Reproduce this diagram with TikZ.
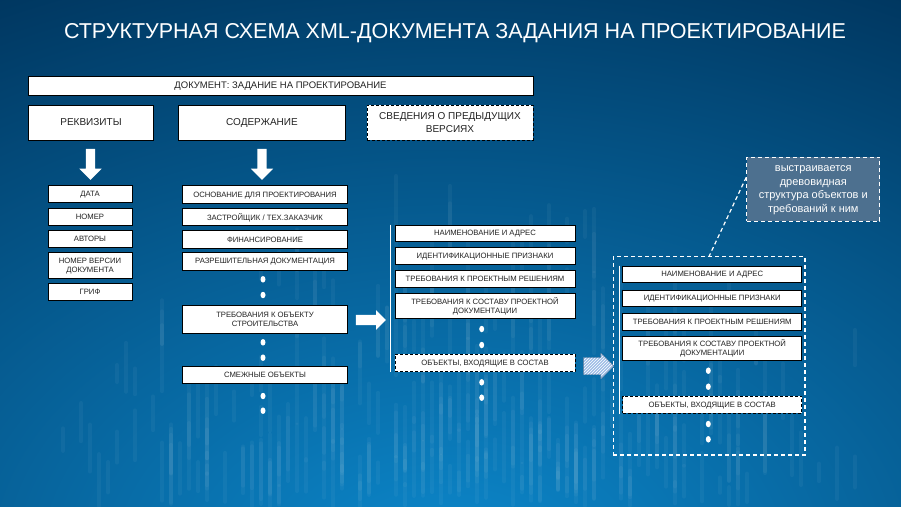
\documentclass[tikz,border=0pt]{standalone}
\usepackage{fontspec}
\setmainfont{Liberation Sans}
\usetikzlibrary{shapes.geometric,shapes.arrows,patterns}

\definecolor{bgnavy}{HTML}{00365F}
\definecolor{bgglow}{HTML}{0C88CC}
\definecolor{notefill}{HTML}{4D708F}
\definecolor{hatchblue}{HTML}{9DBDE6}
\definecolor{inktext}{HTML}{222222}

\begin{document}
\begin{tikzpicture}[x=1pt,y=-1pt,
    box/.style={draw=black, fill=white, line width=0.8pt, text=inktext, align=center,
      inner sep=0pt, text depth=0pt, font=\fontsize{7.7}{9}\selectfont},
    headbox/.style={box, font=\fontsize{10}{12.5}\selectfont},
    dashbox/.style={box, dash pattern=on 3pt off 2pt},
    dot/.style={ellipse, fill=white, inner sep=0pt, minimum width=5pt, minimum height=6.5pt},
    stem/.style={white, line width=1.5pt},
    framebox/.style={draw=white, line width=1.2pt, dash pattern=on 4pt off 3pt, inner sep=0pt},
    notebox/.style={framebox, fill=notefill, text=white, align=center, text depth=0pt,
      font=\fontsize{11}{13.5}\selectfont},
    whitearrow/.style={single arrow, fill=white, inner xsep=0pt, inner ysep=4.5pt,
      single arrow head extend=6.5pt, minimum height=31pt},
    hatcharrow/.style={single arrow, draw=hatchblue!70!black, line width=0.4pt,
      preaction={fill=hatchblue}, pattern=north east lines, pattern color=white,
      inner xsep=0pt, inner ysep=8.3pt, single arrow head extend=4.2pt, minimum height=30pt},
    streak/.style={white, opacity=0.045, line width=4.5pt, line cap=round}]

  \useasboundingbox (0,0) rectangle (901,506);

  % Background
  \fill[bgnavy] (0,0) rectangle (901,506);
  \begin{scope}
    \clip (0,0) rectangle (901,506);
    \shade[inner color=bgglow, outer color=bgnavy] (450,560) ellipse [x radius=1000, y radius=640];
    \pgfmathsetseed{17}
    \foreach \i in {1,...,320}{
      \pgfmathsetmacro{\sx}{9*round((450+420*(rnd+rnd-1))/9)}
      \pgfmathsetmacro{\sy}{506-300*rnd*rnd}
      \pgfmathsetmacro{\sl}{15+55*rnd}
      \draw[streak] (\sx,\sy) -- ++(0,-\sl);
    }
  \end{scope}

  % Title
  \node[text=white, anchor=base, font=\fontsize{21.5}{24}\selectfont] (title) at (455,38.5)
    {СТРУКТУРНАЯ СХЕМА XML-ДОКУМЕНТА ЗАДАНИЯ НА ПРОЕКТИРОВАНИЕ};

  % Document and its parts
  \node[headbox, minimum width=505, minimum height=19, font=\fontsize{9.5}{11}\selectfont] (doc) at (280.5,85.5)
    {ДОКУМЕНТ: ЗАДАНИЕ НА ПРОЕКТИРОВАНИЕ};
  \node[headbox, minimum width=125, minimum height=35] (rekv) at (91,122.5) {РЕКВИЗИТЫ};
  \node[headbox, minimum width=167, minimum height=35] (content) at (262,122.5) {СОДЕРЖАНИЕ};
  \node[headbox, dash pattern=on 3pt off 2pt, minimum width=166, minimum height=35] (versions) at (450,122.5)
    {СВЕДЕНИЯ О ПРЕДЫДУЩИХ\\ВЕРСИЯХ};

  \node[whitearrow, rotate=-90] (arrRekv) at (90.5,162) {};
  \node[whitearrow, rotate=-90] (arrContent) at (262,162) {};

  % Requisites
  \node[box, minimum width=84, minimum height=17] (date) at (90,194) {ДАТА};
  \node[box, minimum width=84, minimum height=17] (number) at (90,217) {НОМЕР};
  \node[box, minimum width=84, minimum height=17] (authors) at (90,238.7) {АВТОРЫ};
  \node[box, minimum width=84, minimum height=26] (version) at (90,265.3) {НОМЕР ВЕРСИИ\\ДОКУМЕНТА};
  \node[box, minimum width=84, minimum height=17] (grif) at (90,292) {ГРИФ};

  % Content
  \node[box, minimum width=165, minimum height=17.5] (basis) at (265,194.5) {ОСНОВАНИЕ ДЛЯ ПРОЕКТИРОВАНИЯ};
  \node[box, minimum width=165, minimum height=17.5] (builder) at (265,217) {ЗАСТРОЙЩИК / ТЕХ.ЗАКАЗЧИК};
  \node[box, minimum width=165, minimum height=17.5] (finance) at (265,239.5) {ФИНАНСИРОВАНИЕ};
  \node[box, minimum width=165, minimum height=17.5] (permits) at (265,261.3) {РАЗРЕШИТЕЛЬНАЯ ДОКУМЕНТАЦИЯ};
  \node[dot] (d21) at (263,279.3) {};
  \node[dot] (d22) at (263,295) {};
  \node[box, minimum width=165, minimum height=27.6] (objreq) at (265,319.5) {ТРЕБОВАНИЯ К ОБЪЕКТУ\\СТРОИТЕЛЬСТВА};
  \node[dot] (d23) at (263,342.3) {};
  \node[dot] (d24) at (263,357.7) {};
  \node[box, minimum width=165, minimum height=17.3] (adjacent) at (265,374.7) {СМЕЖНЫЕ ОБЪЕКТЫ};
  \node[dot] (d25) at (263,396) {};
  \node[dot] (d26) at (263,410.7) {};

  \node[whitearrow, inner ysep=5pt, single arrow head extend=4.7pt, minimum height=30pt] (arrObj) at (368.3,320) {};

  % Object
  \node[box, minimum width=180, minimum height=16.7] (name3) at (485,233.3) {НАИМЕНОВАНИЕ И АДРЕС};
  \node[box, minimum width=180, minimum height=17] (ident3) at (485,255.8) {ИДЕНТИФИКАЦИОННЫЕ ПРИЗНАКИ};
  \node[box, minimum width=180, minimum height=16.7] (design3) at (485,279) {ТРЕБОВАНИЯ К ПРОЕКТНЫМ РЕШЕНИЯМ};
  \node[box, minimum width=180, minimum height=25] (docs3) at (485,305.8) {ТРЕБОВАНИЯ К СОСТАВУ ПРОЕКТНОЙ\\ДОКУМЕНТАЦИИ};
  \node[dot] (d31) at (481.7,329) {};
  \node[dot] (d32) at (481.7,345) {};
  \node[dashbox, minimum width=180, minimum height=17.7] (obj3) at (485,362.8) {ОБЪЕКТЫ, ВХОДЯЩИЕ В СОСТАВ};
  \node[dot] (d33) at (481.7,382.3) {};
  \node[dot] (d34) at (481.7,397.7) {};
  \draw[stem] ([xshift=-4.3]name3.north west) -- ([xshift=-4.3]obj3.south west);

  \node[hatcharrow] (arrTree) at (594.3,366) {};

  % Nested object
  \node[framebox, minimum width=191.7, minimum height=198.3] (frame) at (709.2,355.8) {};
  \node[box, minimum width=179, minimum height=16.7] (name4) at (712.2,274.3) {НАИМЕНОВАНИЕ И АДРЕС};
  \node[box, minimum width=179, minimum height=16] (ident4) at (712.2,298) {ИДЕНТИФИКАЦИОННЫЕ ПРИЗНАКИ};
  \node[box, minimum width=179, minimum height=16.7] (design4) at (712.2,321.7) {ТРЕБОВАНИЯ К ПРОЕКТНЫМ РЕШЕНИЯМ};
  \node[box, minimum width=179, minimum height=24] (docs4) at (712.2,348) {ТРЕБОВАНИЯ К СОСТАВУ ПРОЕКТНОЙ\\ДОКУМЕНТАЦИИ};
  \node[dot] (d41) at (708.3,370.7) {};
  \node[dot] (d42) at (708.3,386.7) {};
  \node[dashbox, minimum width=179, minimum height=17.3] (obj4) at (712.2,404.7) {ОБЪЕКТЫ, ВХОДЯЩИЕ В СОСТАВ};
  \node[dot] (d43) at (708.3,424) {};
  \node[dot] (d44) at (708.3,439.3) {};
  \draw[stem] ([xshift=-2.7]name4.north west) -- ([xshift=-2.7]obj4.south west);

  % Note
  \node[notebox, minimum width=133, minimum height=64] (note) at (813.3,189.2)
    {выстраивается\\древовидная\\структура объектов и\\требований к ним};
  \draw[white, line width=1.2pt, dash pattern=on 4pt off 3pt] (note.170) -- (frame.north);

\end{tikzpicture}
\end{document}
